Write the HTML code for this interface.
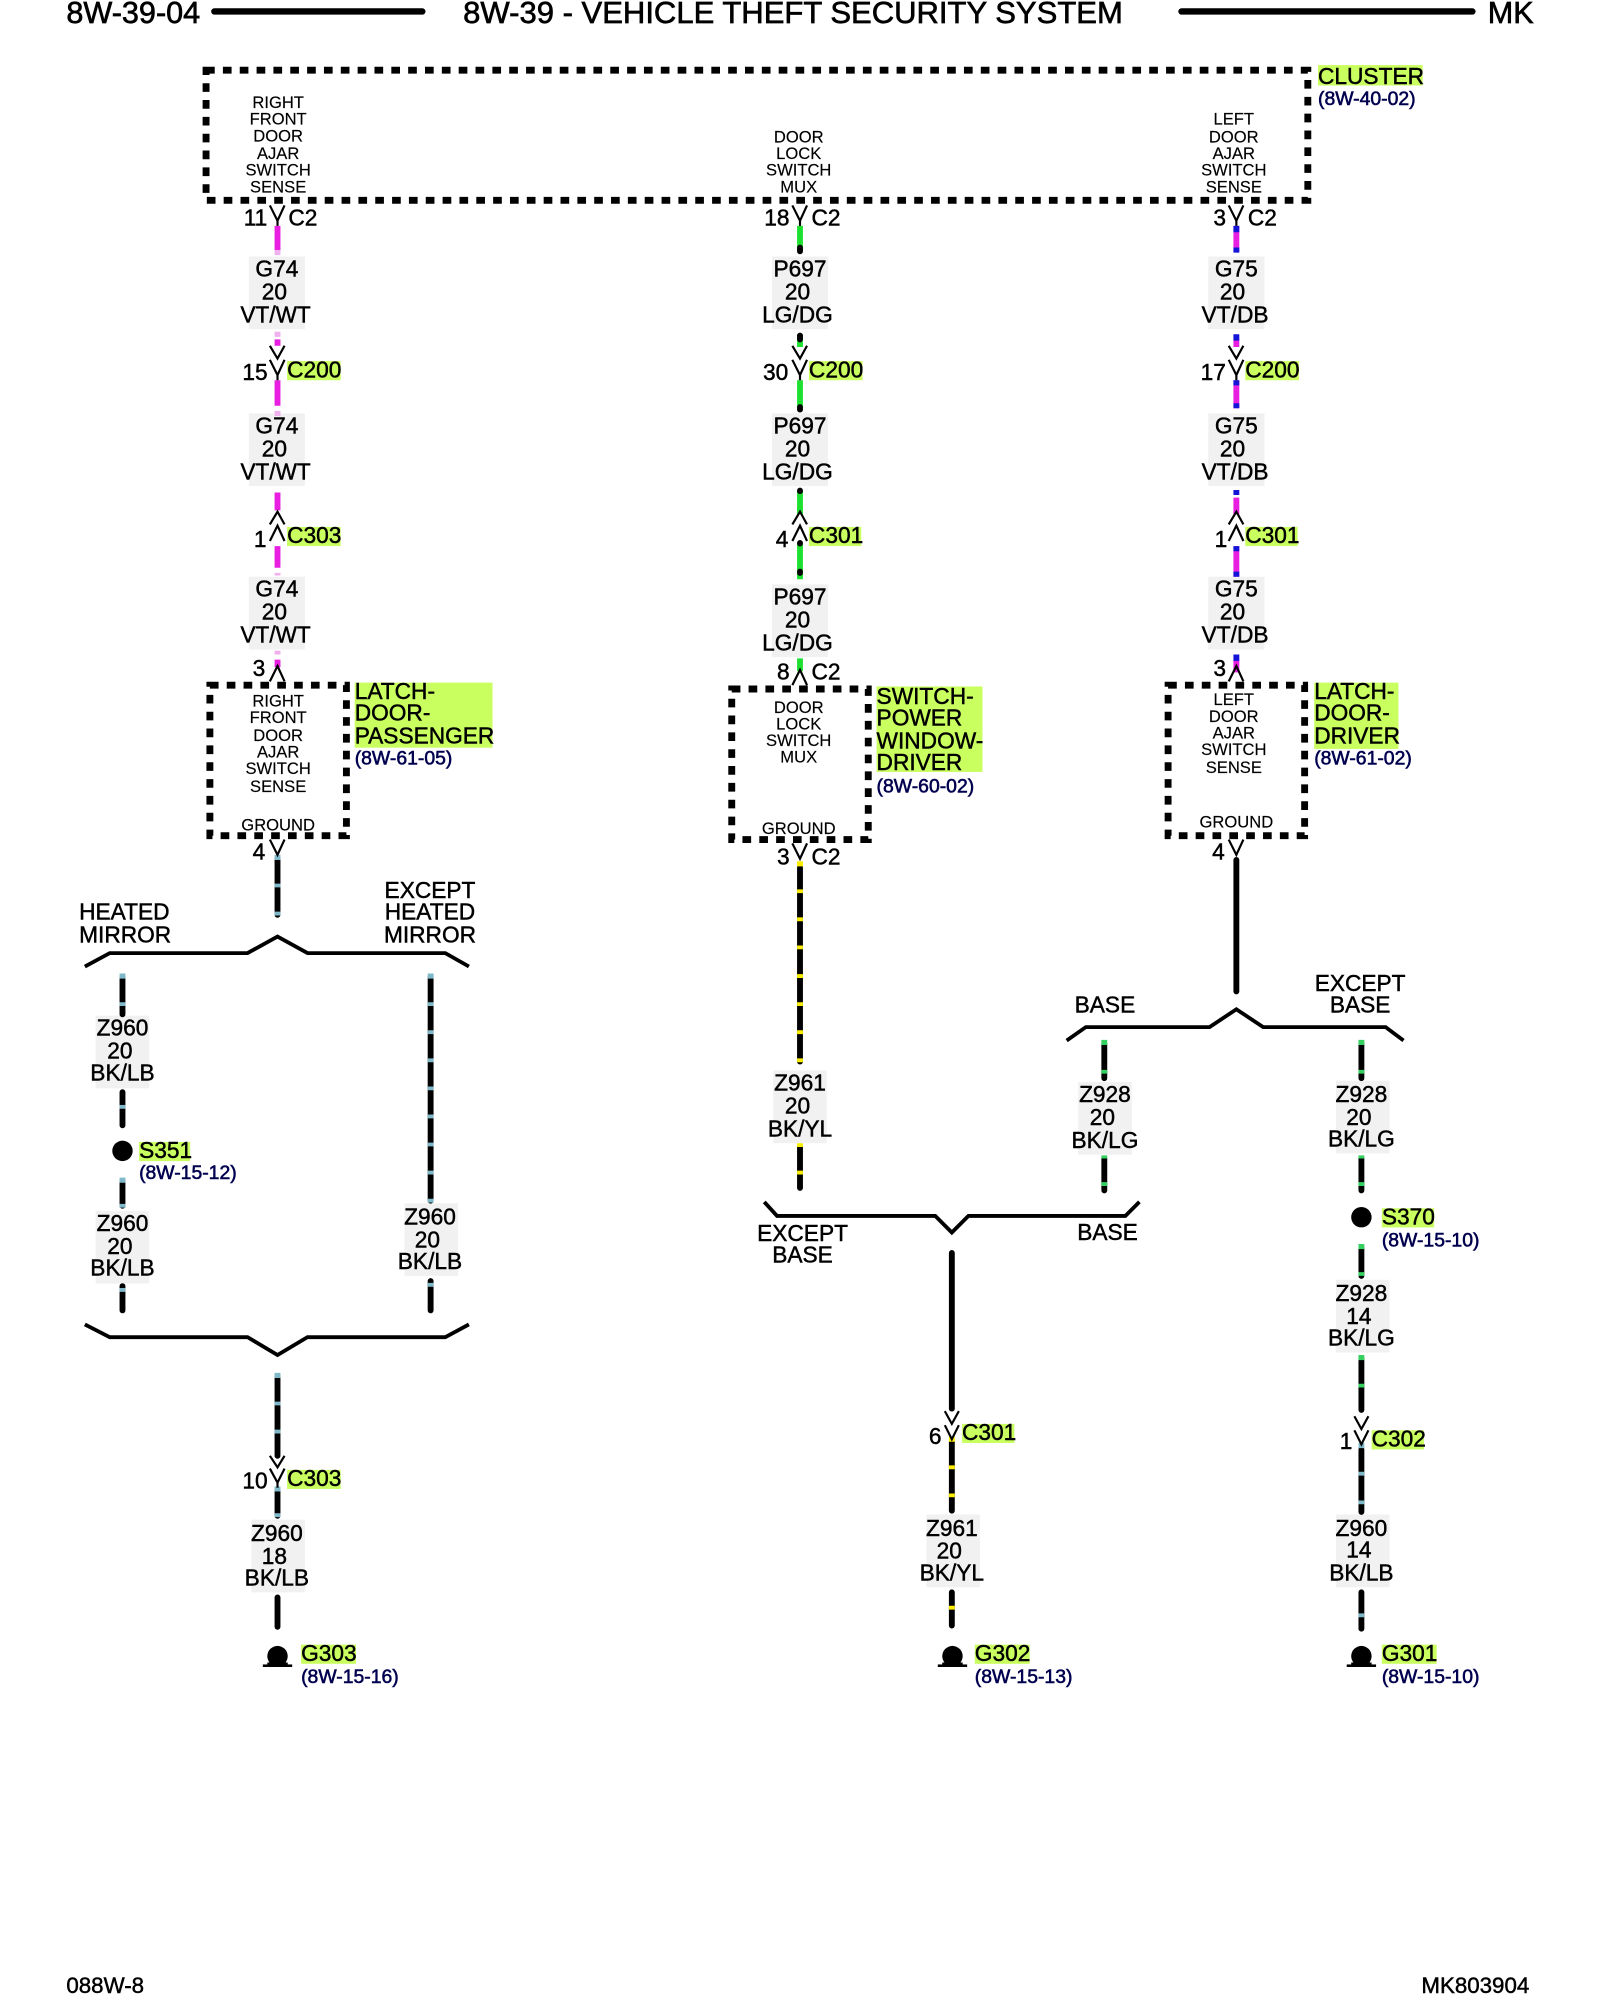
<!DOCTYPE html>
<html><head><meta charset="utf-8"><title>8W-39 Vehicle Theft Security System</title>
<style>
html,body{margin:0;padding:0;background:#fff}
svg{display:block;width:1600px;height:2000px}
text{font-family:"Liberation Sans",Arial,sans-serif;fill:#000;stroke:#000;stroke-width:.36;dominant-baseline:central;font-size:17.8px}
.c{text-anchor:middle}
.h{font-size:24px;stroke-width:.5}
.s{font-size:13px;text-anchor:middle;stroke-width:.12}
.r{font-size:15.2px;fill:#00004f;stroke:#00004f;stroke-width:.45}
.f{font-size:17.5px}
.g{fill:#f1f1f1;stroke:none}
.y{fill:#c9ff5e;stroke:none}
.box{fill:none;stroke:#000;stroke-width:5.4;stroke-dasharray:6.8 6.4}
.v{fill:none;stroke:#000;stroke-width:1.7}
.br{fill:none;stroke:#000;stroke-width:3}
.w{fill:none;stroke-width:4.6}
.k{stroke:#000}.m{stroke:#e81ee0}.n{stroke:#1ee030}.b{stroke:#1414d8}
.p{stroke:#f0b0ee}.l{stroke:#7fb8c8}.o{stroke:#fbee00}.e{stroke:#35d060}
.kr{stroke-linecap:round}
</style></head><body>
<svg xmlns="http://www.w3.org/2000/svg" viewBox="0 0 1254 1567.5">
<rect width="1254" height="1567.5" fill="#fff"/>

<!-- header -->
<text class="h" x="52" y="10">8W-39-04</text>
<path d="M168 9H331M926 9H1154" stroke="#000" stroke-width="5" stroke-linecap="round" fill="none"/>
<text class="h" x="363" y="10" textLength="517" lengthAdjust="spacingAndGlyphs">8W-39 - VEHICLE THEFT SECURITY SYSTEM</text>
<text class="h" x="1166" y="10">MK</text>
<text class="f" x="52" y="1556">088W-8</text>
<text class="f" x="1114" y="1556">MK803904</text>

<!-- module boxes -->
<rect class="box" x="161.500" y="55" width="863.500" height="102"/>
<rect class="box" x="164.500" y="537" width="107" height="118"/>
<rect class="box" x="573.500" y="540" width="107" height="118"/>
<rect class="box" x="915.500" y="537" width="107" height="118"/>

<!-- highlights -->
<rect class="y" x="1033" y="51" width="82" height="16"/>
<rect class="y" x="278" y="535" width="108" height="51"/>
<rect class="y" x="687" y="538" width="83" height="67"/>
<rect class="y" x="1030" y="535" width="66" height="52"/>
<rect class="y" x="225" y="283" width="42" height="15"/>
<rect class="y" x="634" y="283" width="42" height="15"/>
<rect class="y" x="976" y="283" width="42" height="15"/>
<rect class="y" x="225" y="413" width="42" height="15"/>
<rect class="y" x="634" y="413" width="41" height="15"/>
<rect class="y" x="976" y="413" width="41" height="15"/>
<rect class="y" x="225" y="1152" width="42" height="15"/>
<rect class="y" x="754" y="1116" width="41" height="15"/>
<rect class="y" x="1075" y="1121" width="41" height="15"/>
<rect class="y" x="109" y="895" width="40" height="15"/>
<rect class="y" x="1083" y="947" width="41" height="15"/>
<rect class="y" x="236" y="1289" width="43" height="15"/>
<rect class="y" x="764" y="1289" width="43" height="15"/>
<rect class="y" x="1083" y="1289" width="43" height="15"/>

<!-- wire label backgrounds -->
<rect class="g" x="195" y="201" width="44" height="57"/><rect class="g" x="195" y="324" width="44" height="57"/><rect class="g" x="195" y="452" width="44" height="57"/>
<rect class="g" x="605" y="201" width="44" height="57"/><rect class="g" x="605" y="324" width="44" height="57"/><rect class="g" x="605" y="458" width="44" height="57"/>
<rect class="g" x="947" y="201" width="44" height="57"/><rect class="g" x="947" y="324" width="44" height="57"/><rect class="g" x="947" y="452" width="44" height="57"/>
<rect class="g" x="75" y="796" width="42" height="57"/><rect class="g" x="75" y="949" width="42" height="57"/>
<rect class="g" x="317" y="943" width="42" height="57"/>
<rect class="g" x="197" y="1191" width="42" height="57"/>
<rect class="g" x="606" y="839" width="42" height="57"/>
<rect class="g" x="726" y="1187" width="42" height="57"/>
<rect class="g" x="845" y="848" width="42" height="57"/>
<rect class="g" x="1047" y="847" width="42" height="57"/><rect class="g" x="1047" y="1003" width="42" height="57"/><rect class="g" x="1047" y="1187" width="42" height="57"/>

<!-- magenta/white G74 -->
<path class="w m" d="M217.500 177V196M217.500 298V318M217.500 386V400M217.500 428V445M217.500 517V523"/>
<path class="w p" d="M217.500 196V200M217.500 260V264M217.500 322V326M217.500 449V451M217.500 510V513"/>
<path class="w m" d="M217.500 266V271"/>
<!-- green/black P697 -->
<path class="w n" d="M627 177V197M627 262V272M627 298V320M627 385V403M627 426V454M627 516V526"/>
<g class="w k kr"><path d="M627 194V197M627 263V266M627 319V321M627 384.500V385M627 425.500V426M627 448V449"/></g>
<!-- magenta/blue G75 -->
<path class="w m" d="M969 177V197M969 266V272M969 298V320M969 390V403M969 428V452M969 517V527"/>
<path class="w b" d="M969 177V182M969 194V198M969 262V267M969 298V302M969 316V320M969 384V388M969 428V432M969 448V452M969 513V518"/>

<!-- black/lt blue Z960 -->
<g class="w">
<path class="k kr" d="M217.500 673V717M96 766V795M96 856V882M96 926V945M96 1008V1027M337.500 766V941M337.500 1004V1027M217.500 1079V1141M217.500 1168V1188M217.500 1252V1275M1067 1136V1185M1067 1248V1276.500"/>
<path class="l" d="M217.500 670V674M217.500 692.500V695.500M217.500 714.500V717.500M96 763V767M96 785.500V788.500M96 923V927M96 943.500V946.500M96 1009.500V1012.500M337.500 763V767M337.500 785.500V788.500M337.500 807.500V810.500M337.500 829.500V832.500M337.500 851.500V854.500M337.500 873.500V876.500M337.500 895.500V898.500M337.500 917.500V920.500M337.500 939.500V942.500M337.500 1005.500V1008.500M217.500 1076V1080M217.500 1098.500V1101.500M217.500 1120.500V1123.500M217.500 1165V1169M217.500 1186V1189M1067 1131V1135M1067 1153.500V1156.500M1067 1176V1179M1067 1264.500V1267.500"/>
<path class="l" d="M96 866V869"/>
<!-- black/yellow Z961 -->
<path class="k kr" d="M627 680V832M627 899V931M746 982V1104M746 1130V1184M746 1248V1274"/>
<path class="o" d="M627 675V679M627 697V700M627 719V722M627 741V744M627 763.500V766.500M627 785.500V788.500M627 807.500V810.500M627 829.500V832.500M627 896V899M627 917.500V920.500M746 1126V1130M746 1148.500V1151.500M746 1170.500V1173.500M746 1258.500V1261.500"/>
<!-- black/green Z928 -->
<path class="k kr" d="M865.500 818V845M865.500 908V933M1067 818V845M1067 908V933M1067 978V1000M1067 1065V1105"/>
<path class="e" d="M865.500 815V819M865.500 838.500V841.500M865.500 905.500V908M865.500 926.500V929.500M1067 815V819M1067 838.500V841.500M1067 905.500V908M1067 926.500V929.500M1067 975V979M1067 997V1000M1067 1062V1066M1067 1084.500V1087.500"/>
<!-- solid -->
<path class="k kr" d="M969 674V777"/>
</g>

<!-- connector chevrons -->
<g class="v">
<path d="M211.500 161L217.500 173L223 161M217.500 173V177"/>
<path d="M621 161L627 173L632.500 161M627 173V177"/>
<path d="M963 161L969 173L974.500 161M969 173V177"/>
<path d="M211.500 271L217.500 281L223 271M211.500 282L217.500 294L223 282M217.500 294V298"/>
<path d="M621 271L627 281L632.500 271M621 282L627 294L632.500 282M627 294V298"/>
<path d="M963 271L969 281L974.500 271M963 282L969 294L974.500 282M969 294V298"/>
<path d="M211.500 411L217.500 401L223 411M211.500 424L217.500 412L223 424"/>
<path d="M621 411L627 401L632.500 411M621 424L627 412L632.500 424"/>
<path d="M963 411L969 401L974.500 411M963 424L969 412L974.500 424"/>
<path d="M211.500 534L217.500 522L223 534"/>
<path d="M621 537L627 525L632.500 537"/>
<path d="M963 534L969 522L974.500 534"/>
<path d="M211.500 658L217.500 670L223 658"/>
<path d="M621 661L627 673L632.500 661"/>
<path d="M963 658L969 670L974.500 658"/>
<path d="M211.500 1141L217.500 1150L223 1141M211.500 1151L217.500 1162L223 1151M217.500 1162V1166"/>
<path d="M740.500 1106L746 1116L751.500 1106M740.500 1117L746 1128L751.500 1117"/>
<path d="M1061.500 1110L1067 1120L1072.500 1110M1061.500 1121L1067 1132L1072.500 1121"/>
</g>

<!-- branch brackets -->
<path class="br" d="M66.500 757.500L86 747H194L217.500 734L241 747H349L367.500 757.500"/>
<path class="br" d="M66.500 1038L86 1048H194L217.500 1062L241 1048H349L367.500 1038"/>
<path class="br" d="M836 815.500L851 805H948L969 791L990 805H1086L1100 815.500"/>
<path class="br" d="M599 942L609 953H733L746 966L759 953H882L893 942"/>

<!-- splices -->
<circle cx="96" cy="902" r="8" fill="#000"/>
<circle cx="1067" cy="954" r="8" fill="#000"/>

<!-- grounds -->
<g fill="#000">
<circle cx="217.500" cy="1298" r="8"/><rect x="213" y="1298" width="9" height="7"/><path d="M209.500 1305H225.500V1303H209.500z"/><rect x="206" y="1304.500" width="23" height="2"/>
<circle cx="746.500" cy="1298" r="8"/><rect x="742" y="1298" width="9" height="7"/><path d="M738.500 1305H754.500V1303H738.500z"/><rect x="735" y="1304.500" width="23" height="2"/>
<circle cx="1067" cy="1298" r="8"/><rect x="1062.500" y="1298" width="9" height="7"/><path d="M1059 1305H1075V1303H1059z"/><rect x="1055.500" y="1304.500" width="23" height="2"/>
</g>

<g transform="translate(0,-.6)">
<!-- module text -->
<text class="s" x="218" y="81">RIGHT</text><text class="s" x="218" y="94">FRONT</text><text class="s" x="218" y="107">DOOR</text><text class="s" x="218" y="121">AJAR</text><text class="s" x="218" y="134">SWITCH</text><text class="s" x="218" y="147">SENSE</text>
<text class="s" x="626" y="108">DOOR</text><text class="s" x="626" y="121">LOCK</text><text class="s" x="626" y="134">SWITCH</text><text class="s" x="626" y="147">MUX</text>
<text class="s" x="967" y="94">LEFT</text><text class="s" x="967" y="108">DOOR</text><text class="s" x="967" y="121">AJAR</text><text class="s" x="967" y="134">SWITCH</text><text class="s" x="967" y="147">SENSE</text>

<text class="s" x="218" y="550">RIGHT</text><text class="s" x="218" y="563">FRONT</text><text class="s" x="218" y="577">DOOR</text><text class="s" x="218" y="590">AJAR</text><text class="s" x="218" y="603">SWITCH</text><text class="s" x="218" y="617">SENSE</text><text class="s" x="218" y="647">GROUND</text>
<text class="s" x="626" y="555">DOOR</text><text class="s" x="626" y="568">LOCK</text><text class="s" x="626" y="581">SWITCH</text><text class="s" x="626" y="594">MUX</text><text class="s" x="626" y="650">GROUND</text>
<text class="s" x="967" y="549">LEFT</text><text class="s" x="967" y="562">DOOR</text><text class="s" x="967" y="575">AJAR</text><text class="s" x="967" y="588">SWITCH</text><text class="s" x="967" y="602">SENSE</text><text class="s" x="969" y="645">GROUND</text>

<!-- module names -->
<text x="1033" y="60">CLUSTER</text><text class="r" x="1033" y="78">(8W-40-02)</text>
<text x="278" y="542">LATCH-</text><text x="278" y="559">DOOR-</text><text x="278" y="577">PASSENGER</text><text class="r" x="278" y="595">(8W-61-05)</text>
<text x="687" y="546">SWITCH-</text><text x="687" y="563">POWER</text><text x="687" y="581">WINDOW-</text><text x="687" y="598">DRIVER</text><text class="r" x="687" y="617">(8W-60-02)</text>
<text x="1030" y="542">LATCH-</text><text x="1030" y="559">DOOR-</text><text x="1030" y="577">DRIVER</text><text class="r" x="1030" y="595">(8W-61-02)</text>

<!-- connector text -->
<text x="191" y="171">11</text><text x="226" y="171">C2</text>
<text x="599" y="171">18</text><text x="636" y="171">C2</text>
<text x="951" y="171">3</text><text x="978" y="171">C2</text>
<text x="190" y="292">15</text><text x="225" y="290">C200</text>
<text x="598" y="292">30</text><text x="634" y="290">C200</text>
<text x="941" y="292">17</text><text x="976" y="290">C200</text>
<text x="199" y="423">1</text><text x="225" y="420">C303</text>
<text x="608" y="423">4</text><text x="634" y="420">C301</text>
<text x="952" y="423">1</text><text x="976" y="420">C301</text>
<text x="198" y="524">3</text>
<text x="609" y="527">8</text><text x="636" y="527">C2</text>
<text x="951" y="524">3</text>
<text x="198" y="668">4</text>
<text x="609" y="672">3</text><text x="636" y="672">C2</text>
<text x="950" y="668">4</text>
<text x="190" y="1161">10</text><text x="225" y="1159">C303</text>
<text x="728" y="1126">6</text><text x="754" y="1123">C301</text>
<text x="1050" y="1130">1</text><text x="1075" y="1128">C302</text>

<!-- wire labels -->
<text class="c" x="217" y="211">G74</text><text class="c" x="215" y="229">20</text><text class="c" x="216" y="247" textLength="55" lengthAdjust="spacingAndGlyphs">VT/WT</text>
<text class="c" x="217" y="334">G74</text><text class="c" x="215" y="352">20</text><text class="c" x="216" y="370" textLength="55" lengthAdjust="spacingAndGlyphs">VT/WT</text>
<text class="c" x="217" y="462">G74</text><text class="c" x="215" y="480">20</text><text class="c" x="216" y="498" textLength="55" lengthAdjust="spacingAndGlyphs">VT/WT</text>
<text class="c" x="627" y="211">P697</text><text class="c" x="625" y="229">20</text><text class="c" x="625" y="247">LG/DG</text>
<text class="c" x="627" y="334">P697</text><text class="c" x="625" y="352">20</text><text class="c" x="625" y="370">LG/DG</text>
<text class="c" x="627" y="468">P697</text><text class="c" x="625" y="486">20</text><text class="c" x="625" y="504">LG/DG</text>
<text class="c" x="969" y="211">G75</text><text class="c" x="966" y="229">20</text><text class="c" x="968" y="247">VT/DB</text>
<text class="c" x="969" y="334">G75</text><text class="c" x="966" y="352">20</text><text class="c" x="968" y="370">VT/DB</text>
<text class="c" x="969" y="462">G75</text><text class="c" x="966" y="480">20</text><text class="c" x="968" y="498">VT/DB</text>

<text class="c" x="96" y="806">Z960</text><text class="c" x="94" y="824">20</text><text class="c" x="96" y="841">BK/LB</text>
<text class="c" x="96" y="959">Z960</text><text class="c" x="94" y="977">20</text><text class="c" x="96" y="994">BK/LB</text>
<text class="c" x="337" y="954">Z960</text><text class="c" x="335" y="972">20</text><text class="c" x="337" y="989">BK/LB</text>
<text class="c" x="217" y="1202">Z960</text><text class="c" x="215" y="1220">18</text><text class="c" x="217" y="1237">BK/LB</text>
<text class="c" x="627" y="849">Z961</text><text class="c" x="625" y="867">20</text><text class="c" x="627" y="885">BK/YL</text>
<text class="c" x="746" y="1198">Z961</text><text class="c" x="744" y="1216">20</text><text class="c" x="746" y="1233">BK/YL</text>
<text class="c" x="866" y="858">Z928</text><text class="c" x="864" y="876">20</text><text class="c" x="866" y="894">BK/LG</text>
<text class="c" x="1067" y="858">Z928</text><text class="c" x="1065" y="876">20</text><text class="c" x="1067" y="893">BK/LG</text>
<text class="c" x="1067" y="1014">Z928</text><text class="c" x="1065" y="1032">14</text><text class="c" x="1067" y="1049">BK/LG</text>
<text class="c" x="1067" y="1198">Z960</text><text class="c" x="1065" y="1215">14</text><text class="c" x="1067" y="1233">BK/LB</text>

<!-- branch labels -->
<text x="62" y="715">HEATED</text><text x="62" y="733">MIRROR</text>
<text class="c" x="337" y="698">EXCEPT</text><text class="c" x="337" y="715">HEATED</text><text class="c" x="337" y="733">MIRROR</text>
<text class="c" x="866" y="788">BASE</text>
<text class="c" x="1066" y="771">EXCEPT</text><text class="c" x="1066" y="788">BASE</text>
<text class="c" x="629" y="967">EXCEPT</text><text class="c" x="629" y="984">BASE</text>
<text class="c" x="868" y="966">BASE</text>

<!-- splice/ground labels -->
<text x="109" y="902">S351</text><text class="r" x="109" y="920">(8W-15-12)</text>
<text x="1083" y="954">S370</text><text class="r" x="1083" y="973">(8W-15-10)</text>
<text x="236" y="1296">G303</text><text class="r" x="236" y="1315">(8W-15-16)</text>
<text x="764" y="1296">G302</text><text class="r" x="764" y="1315">(8W-15-13)</text>
<text x="1083" y="1296">G301</text><text class="r" x="1083" y="1315">(8W-15-10)</text>
</g>
</svg>
</body></html>
